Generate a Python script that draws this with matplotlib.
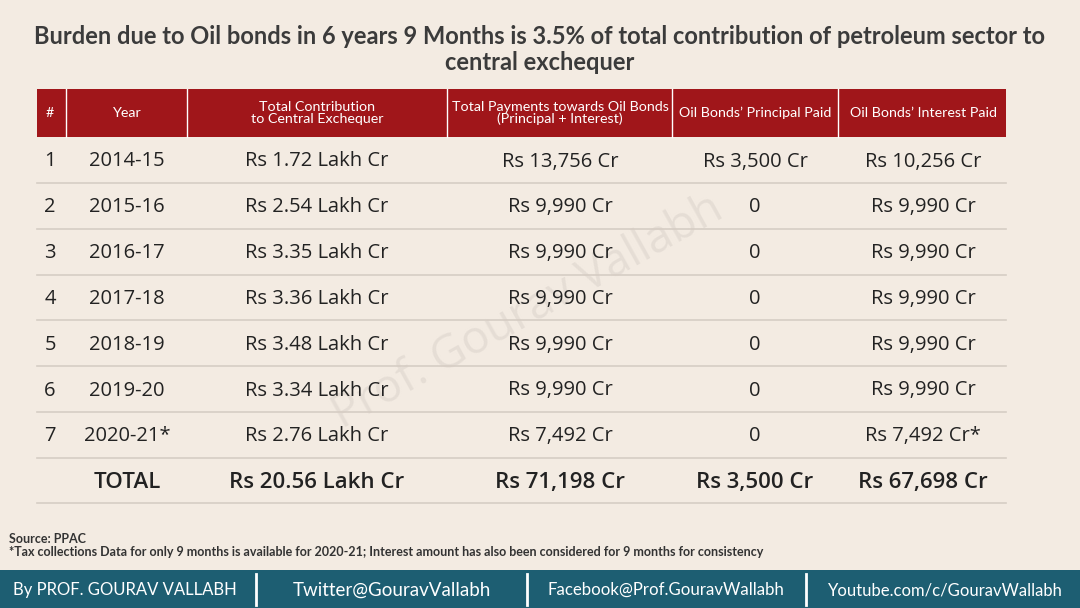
import matplotlib.pyplot as plt
from matplotlib.patches import Rectangle

# table data
row_no = ['1', '2', '3', '4', '5', '6', '7']
years = ['2014-15', '2015-16', '2016-17', '2017-18', '2018-19', '2019-20', '2020-21*']
contribution = ['Rs 1.72 Lakh Cr', 'Rs 2.54 Lakh Cr', 'Rs 3.35 Lakh Cr', 'Rs 3.36 Lakh Cr',
                'Rs 3.48 Lakh Cr', 'Rs 3.34 Lakh Cr', 'Rs 2.76 Lakh Cr']
payments = ['Rs 13,756 Cr', 'Rs 9,990 Cr', 'Rs 9,990 Cr', 'Rs 9,990 Cr',
            'Rs 9,990 Cr', 'Rs 9,990 Cr', 'Rs 7,492 Cr']
principal = ['Rs 3,500 Cr', '0', '0', '0', '0', '0', '0']
interest = ['Rs 10,256 Cr', 'Rs 9,990 Cr', 'Rs 9,990 Cr', 'Rs 9,990 Cr',
            'Rs 9,990 Cr', 'Rs 9,990 Cr', 'Rs 7,492 Cr*']
totals = ['', 'TOTAL', 'Rs 20.56 Lakh Cr', 'Rs 71,198 Cr', 'Rs 3,500 Cr', 'Rs 67,698 Cr']
headers = ['#', 'Year', 'Total Contribution\nto Central Exchequer',
           'Total Payments towards Oil Bonds\n(Principal + Interest)',
           'Oil Bonds\u2019 Principal Paid', 'Oil Bonds\u2019 Interest Paid']
footer_items = ['By PROF. GOURAV VALLABH', 'Twitter@GouravVallabh',
                'Facebook@Prof.GouravWallabh', 'Youtube.com/c/GouravWallabh']

BG = '#f3ebe2'
RED = '#a0161a'
TEAL = '#1d5e72'
LINE = '#d6cdc4'
NARROW = ['Lato', 'DejaVu Sans']
BODY = ['Open Sans', 'DejaVu Sans']

fig = plt.figure(figsize=(10.8, 6.08), dpi=100)
fig.patch.set_facecolor(BG)
ax = fig.add_axes([0, 0, 1, 1])
ax.set_xlim(0, 1080)
ax.set_ylim(608, 0)
ax.axis('off')

ax.text(540, 36, 'Burden due to Oil bonds in 6 years 9 Months is 3.5% of total contribution of petroleum sector to',
        ha='center', va='center', fontsize=17, fontweight='bold', color='#3b3b3b', family=NARROW)
ax.text(540, 63, 'central exchequer', ha='center', va='center', fontsize=17,
        fontweight='bold', color='#3b3b3b', family=NARROW)

# header band
col_edges = [37, 66, 187, 447, 672, 838, 1006]
col_x = [50, 127, 317, 560, 755, 923]
ax.add_patch(Rectangle((37, 89), 1006 - 37, 48, color=RED, lw=0))
for x in col_edges[1:-1]:
    ax.plot([x, x], [89, 137], color='white', lw=1)
for x, h in zip(col_x, headers):
    ax.text(x, 113, h, ha='center', va='center', color='white', fontsize=10.3,
            family=NARROW, linespacing=1.0)

row_h = 45.8
y0 = 160
cols = [row_no, years, contribution, payments, principal, interest]
for i in range(len(years)):
    y = y0 + i * row_h
    for x, col in zip(col_x, cols):
        ax.text(x, y + 1.5, col[i], ha='center', va='center', fontsize=14.5,
                color='#222222', family=BODY)
    ax.plot([37, 1006], [y + row_h / 2, y + row_h / 2], color=LINE, lw=1.2)

y = y0 + len(years) * row_h
for x, t in zip(col_x, totals):
    ax.text(x, y + 1.5, t, ha='center', va='center', fontsize=16, fontweight='semibold',
            color='#222222', family=BODY)
ax.plot([37, 1006], [y + row_h / 2, y + row_h / 2], color=LINE, lw=1.2)

# watermark
ax.text(528, 312, 'Prof. Gourav Vallabh', ha='center', va='center', fontsize=33,
        rotation=29, color='#ddd5cd', alpha=0.6, family=BODY, zorder=0)

ax.text(9, 539, 'Source: PPAC', ha='left', va='center', fontsize=9,
        fontweight='bold', color='#333333', family=NARROW)
ax.text(9, 552, '*Tax collections Data for only 9 months is available for 2020-21; Interest amount has also been considered for 9 months for consistency',
        ha='left', va='center', fontsize=9, fontweight='bold', color='#333333', family=NARROW)

# footer band
ax.add_patch(Rectangle((0, 570), 1080, 38, color=TEAL, lw=0))
for x in [256, 527, 806]:
    ax.plot([x, x], [574, 605], color='white', lw=2)
for x, t, fs in zip([125, 392, 666, 945], footer_items, [12, 13.5, 12.1, 12]):
    ax.text(x, 590, t, ha='center', va='center', color='white', fontsize=fs,
            family=NARROW)

fig.savefig('out.png', dpi=100, facecolor=BG)
